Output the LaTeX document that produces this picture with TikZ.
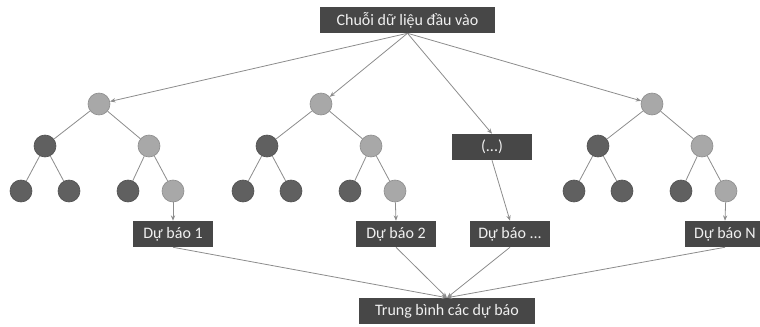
\documentclass[tikz,border=0pt]{standalone}
\usepackage{fontspec}
\setmainfont{Carlito}
\usetikzlibrary{arrows.meta}
\definecolor{boxgray}{HTML}{474747}
\definecolor{darknode}{HTML}{606060}
\definecolor{lightnode}{HTML}{A8A8A8}
\definecolor{linegray}{HTML}{8C8C8C}
\tikzset{
BOX/.style={draw=none, fill=boxgray, text=white!94!black, minimum height=19.5pt, minimum width=#1, inner sep=0pt, font=\fontsize{12}{14}\selectfont},
BOX/.default = 60pt,
DARK/.style={circle, draw=darknode!85!black, fill=darknode, minimum size=16.5pt, inner sep=0pt, line width=0.5pt},
LIGHT/.style={circle, draw=lightnode!85!black, fill=lightnode, minimum size=16.5pt, inner sep=0pt, line width=0.5pt},
EDGE/.style={draw=linegray, line width=0.6pt},
ARROW/.style={EDGE, -{Stealth[length=4pt, width=3.2pt]}},
}
\begin{document}
\begin{tikzpicture}
[x=0.75pt, y=0.75pt]
	\useasboundingbox (0,0) rectangle (760,326);
	\node[BOX=131pt] (input) at (407.5,306) {Chuỗi dữ liệu đầu vào};
	\node[BOX=132pt] (mean) at (447,15) {Trung bình các dự báo};
	\node[BOX] (etc) at (492,179) {(...)};
	\foreach \t/\x in {1/99,2/321,3/652}{
		\node[LIGHT] (r\t) at (\x,222) {};
		\node[DARK] (r\t-a) at (\x-54,180) {};
		\node[LIGHT] (r\t-b) at (\x+50,180) {};
		\node[DARK] (r\t-aa) at (\x-78,135) {};
		\node[DARK] (r\t-ab) at (\x-30,135) {};
		\node[DARK] (r\t-ba) at (\x+29,135) {};
		\node[LIGHT] (r\t-bb) at (\x+74,135) {};
		\path[EDGE] (r\t) -- (r\t-a);
		\path[EDGE] (r\t) -- (r\t-b);
		\path[EDGE] (r\t-a) -- (r\t-aa);
		\path[EDGE] (r\t-a) -- (r\t-ab);
		\path[EDGE] (r\t-b) -- (r\t-ba);
		\path[EDGE] (r\t-b) -- (r\t-bb);
		\path[ARROW] (input.south) -- (r\t);
	}
	\node[BOX] (out1) at (173,92) {Dự báo 1};
	\node[BOX] (out2) at (396,92) {Dự báo 2};
	\node[BOX] (out3) at (510,92) {Dự báo ...};
	\node[BOX] (out4) at (725,92) {Dự báo N};
	\path[ARROW] (input.south) -- (etc.north);
	\path[ARROW] (r1-bb) -- (out1.north);
	\path[ARROW] (r2-bb) -- (out2.north);
	\path[ARROW] (etc.south) -- (out3.north);
	\path[ARROW] (r3-bb) -- (out4.north);
	\foreach \o in {out1,out2,out3,out4}
		\path[ARROW] (\o.south) -- (mean.north);
\end{tikzpicture}
\end{document}
